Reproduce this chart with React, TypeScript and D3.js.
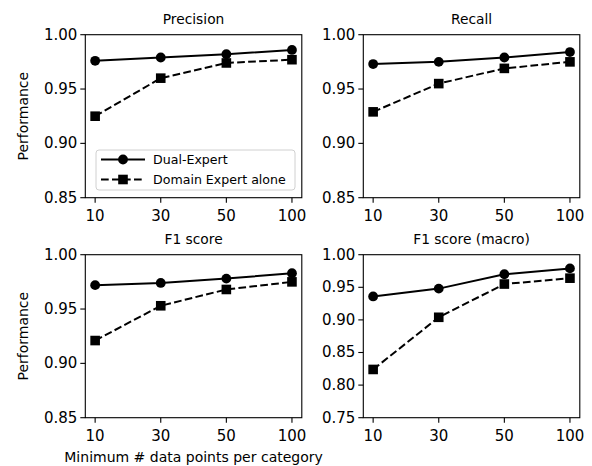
import React, { useEffect, useRef } from 'react';
import * as d3 from 'd3';

// x categories (minimum # data points per category)
const categories = ['10', '30', '50', '100'];

const precisionDual = [0.976, 0.979, 0.982, 0.986];
const precisionDomain = [0.925, 0.960, 0.974, 0.977];
const recallDual = [0.973, 0.975, 0.979, 0.984];
const recallDomain = [0.929, 0.955, 0.969, 0.975];
const f1Dual = [0.972, 0.974, 0.978, 0.983];
const f1Domain = [0.921, 0.953, 0.968, 0.975];
const macroDual = [0.936, 0.948, 0.970, 0.979];
const macroDomain = [0.824, 0.904, 0.955, 0.964];

const ticksNarrow = [0.85, 0.90, 0.95, 1.00];
const ticksWide = [0.75, 0.80, 0.85, 0.90, 0.95, 1.00];

const seriesNames = ['Dual-Expert', 'Domain Expert alone'];

const panels = [
    { title: 'Precision', dual: precisionDual, domain: precisionDomain, ticks: ticksNarrow, col: 0, row: 0 },
    { title: 'Recall', dual: recallDual, domain: recallDomain, ticks: ticksNarrow, col: 1, row: 0 },
    { title: 'F1 score', dual: f1Dual, domain: f1Domain, ticks: ticksNarrow, col: 0, row: 1 },
    { title: 'F1 score (macro)', dual: macroDual, domain: macroDomain, ticks: ticksWide, col: 1, row: 1 },
];

const FONT = 'DejaVu Sans, sans-serif';

const App = () => {
    const ref = useRef<SVGSVGElement>(null);

    useEffect(() => {
        const svg = d3.select(ref.current);
        svg.selectAll('*').remove();

        const lefts = [85.3, 363.3];
        const tops = [34.7, 254.7];
        const w = 216.5;
        const h = 163;

        panels.forEach(p => {
            const x0 = lefts[p.col];
            const y0 = tops[p.row];
            const g = svg.append('g').attr('transform', `translate(${x0},${y0})`);

            const x = d3.scalePoint<string>().domain(categories).range([0, w]).padding(0.15);
            const y = d3.scaleLinear().domain([p.ticks[0], p.ticks[p.ticks.length - 1]]).range([h, 0]);

            // y ticks
            p.ticks.forEach(t => {
                g.append('line').attr('x1', -5).attr('x2', 0).attr('y1', y(t)).attr('y2', y(t))
                    .attr('stroke', '#000').attr('stroke-width', 1.1);
                g.append('text').attr('x', -8).attr('y', y(t)).attr('text-anchor', 'end')
                    .attr('dominant-baseline', 'central').style('font-size', '15px').style('font-family', FONT)
                    .text(d3.format('.2f')(t));
            });
            // x ticks
            categories.forEach(c => {
                g.append('line').attr('x1', x(c)).attr('x2', x(c)).attr('y1', h).attr('y2', h + 5)
                    .attr('stroke', '#000').attr('stroke-width', 1.1);
                g.append('text').attr('x', x(c)).attr('y', h + 23).attr('text-anchor', 'middle')
                    .style('font-size', '15px').style('font-family', FONT).text(c);
            });

            const line = d3.line<number>().x((d, i) => x(categories[i])).y(d => y(d));

            // dual expert first, domain expert drawn over it
            g.append('path').attr('d', line(p.dual)).attr('fill', 'none').attr('stroke', '#000')
                .attr('stroke-width', 2);
            g.selectAll('.dot').data(p.dual).enter().append('circle')
                .attr('cx', (d, i) => x(categories[i])).attr('cy', d => y(d)).attr('r', 4.9).attr('fill', '#000');

            g.append('path').attr('d', line(p.domain)).attr('fill', 'none').attr('stroke', '#000')
                .attr('stroke-width', 2).attr('stroke-dasharray', '7.7,3.3');
            g.selectAll('.sq').data(p.domain).enter().append('rect')
                .attr('x', (d, i) => x(categories[i]) - 4.8).attr('y', d => y(d) - 4.8)
                .attr('width', 9.6).attr('height', 9.6).attr('fill', '#000');

            // frame
            g.append('rect').attr('x', 0).attr('y', 0).attr('width', w).attr('height', h)
                .attr('fill', 'none').attr('stroke', '#000').attr('stroke-width', 1.1);

            g.append('text').attr('x', w / 2).attr('y', -11).attr('text-anchor', 'middle')
                .style('font-size', '13.8px').style('font-family', FONT).text(p.title);

            if (p.col === 0) {
                g.append('text').attr('transform', `translate(${23 - x0},${h / 2}) rotate(-90)`)
                    .attr('text-anchor', 'middle').attr('dominant-baseline', 'central')
                    .style('font-size', '14px').style('font-family', FONT).text('Performance');
            }
            if (p.col === 0 && p.row === 1) {
                g.append('text').attr('x', w / 2).attr('y', h + 44).attr('text-anchor', 'middle')
                    .style('font-size', '14px').style('font-family', FONT).text('Minimum # data points per category');
            }

            if (p.col === 0 && p.row === 0) {
                const lg = g.append('g').attr('transform', `translate(${96 - x0},${150 - y0})`);
                lg.append('rect').attr('width', 199).attr('height', 40).attr('rx', 3)
                    .attr('fill', 'rgba(255,255,255,0.8)').attr('stroke', '#d0d0d0').attr('stroke-width', 1);
                seriesNames.forEach((name, i) => {
                    const yy = 9.5 + i * 20;
                    lg.append('line').attr('x1', 5).attr('x2', 49).attr('y1', yy).attr('y2', yy)
                        .attr('stroke', '#000').attr('stroke-width', 2)
                        .attr('stroke-dasharray', i === 0 ? null : '7.7,3.3');
                    if (i === 0) {
                        lg.append('circle').attr('cx', 27).attr('cy', yy).attr('r', 4.9).attr('fill', '#000');
                    } else {
                        lg.append('rect').attr('x', 27 - 4.8).attr('y', yy - 4.8).attr('width', 9.6).attr('height', 9.6).attr('fill', '#000');
                    }
                    lg.append('text').attr('x', 57).attr('y', yy).attr('dominant-baseline', 'central')
                        .style('font-size', '12.6px').style('font-family', FONT).text(name);
                });
            }
        });
    }, []);

    return (
        <svg ref={ref} width={592} height={466} style={{ position: 'absolute', left: 0, top: 0, background: '#fff' }} />
    );
};

export default App;
